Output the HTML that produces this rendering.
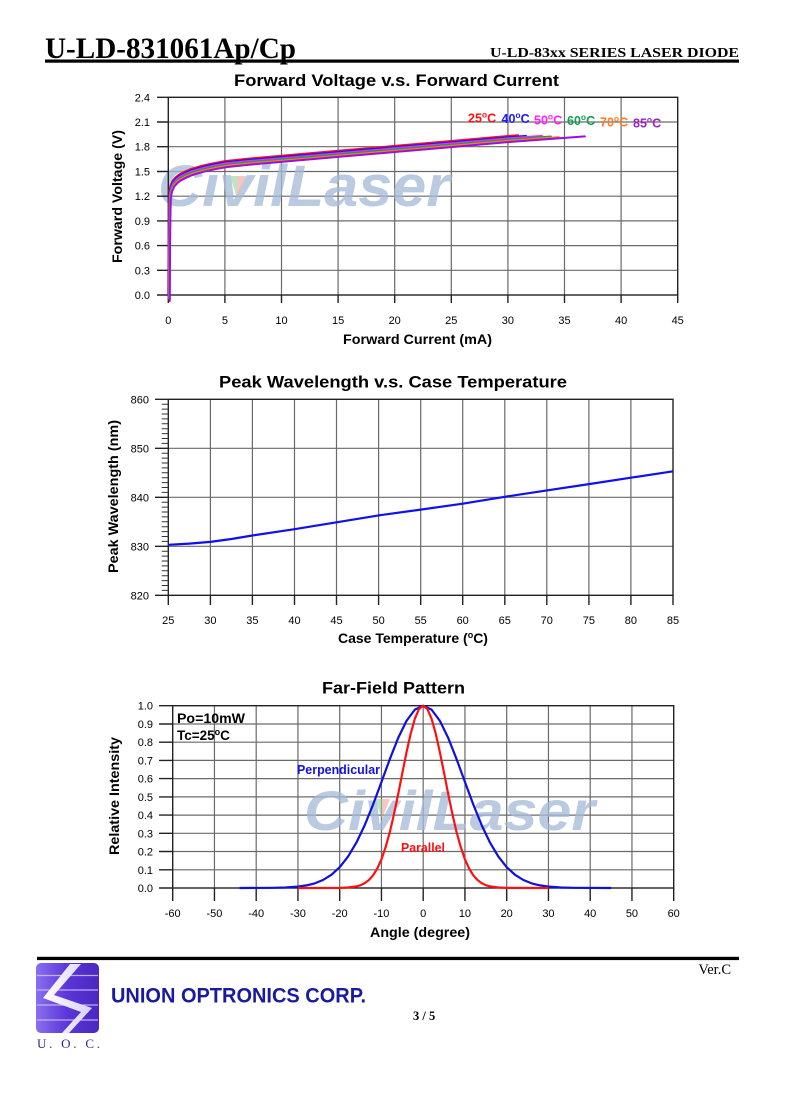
<!DOCTYPE html>
<html>
<head>
<meta charset="utf-8">
<style>
html,body{margin:0;padding:0;background:#fff;}
svg{display:block;}
</style>
</head>
<body>
<svg width="785" height="1104" viewBox="0 0 785 1104" xmlns="http://www.w3.org/2000/svg">
<rect x="0" y="0" width="785" height="1104" fill="#fff"/>

<!-- ============ HEADER ============ -->
<text x="45" y="58" font-family="'Liberation Serif', serif" font-weight="bold" font-size="30" textLength="251" lengthAdjust="spacingAndGlyphs" fill="#000">U-LD-831061Ap/Cp</text>
<rect x="45" y="59.5" width="694" height="3.2" fill="#000"/>
<text x="739" y="57" text-anchor="end" font-family="'Liberation Serif', serif" font-weight="bold" font-size="14" textLength="249" lengthAdjust="spacingAndGlyphs" fill="#000">U-LD-83xx SERIES LASER DIODE</text>

<!-- ============ CHART 1 ============ -->
<text x="396.5" y="86" text-anchor="middle" font-family="'Liberation Sans', sans-serif" font-weight="bold" font-size="16.5" textLength="325" lengthAdjust="spacingAndGlyphs" fill="#000">Forward Voltage v.s. Forward Current</text>

<g stroke="#6a6a6a" stroke-width="1.2" fill="none">
<path d="M224.9 97.3V295M281.5 97.3V295M338.1 97.3V295M394.7 97.3V295M451.3 97.3V295M507.9 97.3V295M564.5 97.3V295M621.1 97.3V295"/>
<path d="M168.3 270.3H677.7M168.3 245.6H677.7M168.3 220.9H677.7M168.3 196.2H677.7M168.3 171.5H677.7M168.3 146.7H677.7M168.3 122H677.7"/>
</g>
<!-- watermark -->
<g opacity="0.75">
<text x="158" y="206" font-family="'Liberation Sans', sans-serif" font-weight="bold" font-style="italic" font-size="58" textLength="292" lengthAdjust="spacingAndGlyphs" fill="#a4bad8">CivilLaser</text>
<polygon points="230,176 237,176 237,198" fill="#8fd39a" opacity="0.8"/>
<polygon points="237,176 246,176 237,198" fill="#f0a0a0" opacity="0.8"/>
</g>
<g stroke="#222" stroke-width="1.4" fill="none">
<rect x="168.3" y="97.3" width="509.4" height="197.7"/>
<path d="M157 97.3H168.3M157 122H168.3M157 146.7H168.3M157 171.5H168.3M157 196.2H168.3M157 220.9H168.3M157 245.6H168.3M157 270.3H168.3M157 295H168.3"/>
<path d="M168.3 295V303M224.9 295V303M281.5 295V303M338.1 295V303M394.7 295V303M451.3 295V303M507.9 295V303M564.5 295V303M621.1 295V303M677.7 295V303"/>
</g>
<g font-family="'Liberation Sans', sans-serif" font-size="11" fill="#000" text-anchor="end">
<text x="150" y="101.3">2.4</text><text x="150" y="126">2.1</text><text x="150" y="150.7">1.8</text>
<text x="150" y="175.5">1.5</text><text x="150" y="200.2">1.2</text><text x="150" y="224.9">0.9</text>
<text x="150" y="249.6">0.6</text><text x="150" y="274.3">0.3</text><text x="150" y="299">0.0</text>
</g>
<g font-family="'Liberation Sans', sans-serif" font-size="11" fill="#000" text-anchor="middle">
<text x="168.3" y="324">0</text><text x="224.9" y="324">5</text><text x="281.5" y="324">10</text>
<text x="338.1" y="324">15</text><text x="394.7" y="324">20</text><text x="451.3" y="324">25</text>
<text x="507.9" y="324">30</text><text x="564.5" y="324">35</text><text x="621.1" y="324">40</text>
<text x="677.7" y="324">45</text>
</g>
<text x="417.5" y="344" text-anchor="middle" font-family="'Liberation Sans', sans-serif" font-weight="bold" font-size="14" textLength="149" lengthAdjust="spacingAndGlyphs">Forward Current (mA)</text>
<text transform="translate(122,196.5) rotate(-90)" text-anchor="middle" font-family="'Liberation Sans', sans-serif" font-weight="bold" font-size="14" textLength="133" lengthAdjust="spacingAndGlyphs">Forward Voltage (V)</text>

<!-- VI curves -->
<g fill="none" stroke-width="2" stroke-linejoin="round" stroke-linecap="round">
<polyline stroke="#ff1010" points="168.3,295 168.6,237.3 169,204.4 169.4,191.2 170.6,185.4 172.8,180.5 176.2,176.8 179.6,174.3 185.3,171.4 190.9,169 202.3,165.7 213.6,163.2 224.9,161.1 247.5,158.7 281.5,155.8 338.1,150.8 394.7,145.9 451.3,141 507.9,136 518.1,135.3"/>
<polyline transform="translate(0.3,1.2)" stroke="#1a1aff" points="168.3,295 168.6,237.3 169,204.4 169.4,191.2 170.6,185.4 172.8,180.5 176.2,176.8 179.6,174.3 185.3,171.4 190.9,169 202.3,165.7 213.6,163.2 224.9,161.1 247.5,158.7 281.5,155.8 338.1,150.8 394.7,145.9 451.3,141 507.9,136 525.7,134.7"/>
<polyline transform="translate(0.6,2.4)" stroke="#ff20ff" points="168.3,295 168.6,237.3 169,204.4 169.4,191.2 170.6,185.4 172.8,180.5 176.2,176.8 179.6,174.3 185.3,171.4 190.9,169 202.3,165.7 213.6,163.2 224.9,161.1 247.5,158.7 281.5,155.8 338.1,150.8 394.7,145.9 451.3,141 507.9,136 541.3,133.5"/>
<polyline transform="translate(0.9,3.6)" stroke="#10a050" points="168.3,295 168.6,237.3 169,204.4 169.4,191.2 170.6,185.4 172.8,180.5 176.2,176.8 179.6,174.3 185.3,171.4 190.9,169 202.3,165.7 213.6,163.2 224.9,161.1 247.5,158.7 281.5,155.8 338.1,150.8 394.7,145.9 451.3,141 507.9,136 550,132.9"/>
<polyline transform="translate(1.2,4.8)" stroke="#ff7a20" points="168.3,295 168.6,237.3 169,204.4 169.4,191.2 170.6,185.4 172.8,180.5 176.2,176.8 179.6,174.3 185.3,171.4 190.9,169 202.3,165.7 213.6,163.2 224.9,161.1 247.5,158.7 281.5,155.8 338.1,150.8 394.7,145.9 451.3,141 507.9,136 557.6,132.3"/>
<polyline transform="translate(1.5,6)" stroke="#9a10e0" points="168.3,295 168.6,237.3 169,204.4 169.4,191.2 170.6,185.4 172.8,180.5 176.2,176.8 179.6,174.3 185.3,171.4 190.9,169 202.3,165.7 213.6,163.2 224.9,161.1 247.5,158.7 281.5,155.8 338.1,150.8 394.7,145.9 451.3,141 507.9,136 583.4,130.4"/>
</g>
<!-- legend -->
<g font-family="'Liberation Sans', sans-serif" font-weight="bold" font-size="12.5">
<text x="468" y="122.3" fill="#ff1010">25<tspan font-size="8.5" dy="-5">o</tspan><tspan dy="5">C</tspan></text>
<text x="501.5" y="122.8" fill="#1a1aff">40<tspan font-size="8.5" dy="-5">o</tspan><tspan dy="5">C</tspan></text>
<text x="534" y="124.3" fill="#ff20ff">50<tspan font-size="8.5" dy="-5">o</tspan><tspan dy="5">C</tspan></text>
<text x="567" y="125" fill="#10a050">60<tspan font-size="8.5" dy="-5">o</tspan><tspan dy="5">C</tspan></text>
<text x="600" y="126.7" fill="#ff7a20">70<tspan font-size="8.5" dy="-5">o</tspan><tspan dy="5">C</tspan></text>
<text x="633" y="127.7" fill="#9a20c8">85<tspan font-size="8.5" dy="-5">o</tspan><tspan dy="5">C</tspan></text>
</g>

<!-- ============ CHART 2 ============ -->
<text x="393" y="387.5" text-anchor="middle" font-family="'Liberation Sans', sans-serif" font-weight="bold" font-size="16.5" textLength="348" lengthAdjust="spacingAndGlyphs" fill="#000">Peak Wavelength v.s. Case Temperature</text>
<g stroke="#6a6a6a" stroke-width="1.2" fill="none">
<path d="M210.4 399.3V595.3M252.4 399.3V595.3M294.5 399.3V595.3M336.5 399.3V595.3M378.6 399.3V595.3M420.7 399.3V595.3M462.7 399.3V595.3M504.8 399.3V595.3M546.8 399.3V595.3M588.9 399.3V595.3M630.9 399.3V595.3"/>
<path d="M168.3 448.3H673M168.3 497.3H673M168.3 546.3H673"/>
</g>
<g stroke="#222" stroke-width="1.4" fill="none">
<rect x="168.3" y="399.3" width="504.7" height="196"/>
<path d="M155 399.3H168.3M155 448.3H168.3M155 497.3H168.3M155 546.3H168.3M155 595.3H168.3"/>
<path d="M168.3 595.3V605M210.4 595.3V605M252.4 595.3V605M294.5 595.3V605M336.5 595.3V605M378.6 595.3V605M420.7 595.3V605M462.7 595.3V605M504.8 595.3V605M546.8 595.3V605M588.9 595.3V605M630.9 595.3V605M673 595.3V605"/>
</g>
<path stroke="#333" stroke-width="1" fill="none" d="M161.7 404.2H168.3M161.7 409.1H168.3M161.7 414H168.3M161.7 418.9H168.3M161.7 423.8H168.3M161.7 428.7H168.3M161.7 433.6H168.3M161.7 438.5H168.3M161.7 443.4H168.3M161.7 453.2H168.3M161.7 458.1H168.3M161.7 463H168.3M161.7 467.9H168.3M161.7 472.8H168.3M161.7 477.7H168.3M161.7 482.6H168.3M161.7 487.5H168.3M161.7 492.4H168.3M161.7 502.2H168.3M161.7 507.1H168.3M161.7 512H168.3M161.7 516.9H168.3M161.7 521.8H168.3M161.7 526.7H168.3M161.7 531.6H168.3M161.7 536.5H168.3M161.7 541.4H168.3M161.7 551.2H168.3M161.7 556.1H168.3M161.7 561H168.3M161.7 565.9H168.3M161.7 570.8H168.3M161.7 575.7H168.3M161.7 580.6H168.3M161.7 585.5H168.3M161.7 590.4H168.3"/>
<g font-family="'Liberation Sans', sans-serif" font-size="11" fill="#000" text-anchor="end">
<text x="149" y="403.3">860</text><text x="149" y="452.3">850</text><text x="149" y="501.3">840</text>
<text x="149" y="550.3">830</text><text x="149" y="599.3">820</text>
</g>
<g font-family="'Liberation Sans', sans-serif" font-size="11" fill="#000" text-anchor="middle">
<text x="168.3" y="624">25</text><text x="210.4" y="624">30</text><text x="252.4" y="624">35</text>
<text x="294.5" y="624">40</text><text x="336.5" y="624">45</text><text x="378.6" y="624">50</text>
<text x="420.7" y="624">55</text><text x="462.7" y="624">60</text><text x="504.8" y="624">65</text>
<text x="546.8" y="624">70</text><text x="588.9" y="624">75</text><text x="630.9" y="624">80</text>
<text x="673" y="624">85</text>
</g>
<text x="338" y="643" font-family="'Liberation Sans', sans-serif" font-weight="bold" font-size="14">Case Temperature (<tspan font-size="9" dy="-5">o</tspan><tspan dy="5">C)</tspan></text>
<text transform="translate(118,496.5) rotate(-90)" text-anchor="middle" font-family="'Liberation Sans', sans-serif" font-weight="bold" font-size="14" textLength="153" lengthAdjust="spacingAndGlyphs">Peak Wavelength (nm)</text>
<polyline fill="none" stroke="#1010ee" stroke-width="2.2" stroke-linejoin="round" points="168.3,544.8 189.3,543.6 210.4,541.9 231.4,539 252.4,535.5 294.5,529.2 336.5,522.3 378.6,515.4 420.7,509.6 462.7,503.7 504.8,496.8 546.8,490.4 588.9,484.1 630.9,477.7 673,471.3"/>

<!-- ============ CHART 3 ============ -->
<text x="393.5" y="693.3" text-anchor="middle" font-family="'Liberation Sans', sans-serif" font-weight="bold" font-size="16.5" textLength="143" lengthAdjust="spacingAndGlyphs" fill="#000">Far-Field Pattern</text>
<g stroke="#6a6a6a" stroke-width="1.2" fill="none">
<path d="M214.45 705.7V888M256.2 705.7V888M297.95 705.7V888M339.7 705.7V888M381.45 705.7V888M423.2 705.7V888M464.95 705.7V888M506.7 705.7V888M548.45 705.7V888M590.2 705.7V888M631.95 705.7V888"/>
<path d="M172.7 869.8H673.7M172.7 851.5H673.7M172.7 833.3H673.7M172.7 815.1H673.7M172.7 796.9H673.7M172.7 778.6H673.7M172.7 760.4H673.7M172.7 742.2H673.7M172.7 724H673.7"/>
</g>
<g opacity="0.75">
<text x="304" y="830" font-family="'Liberation Sans', sans-serif" font-weight="bold" font-style="italic" font-size="56" textLength="291" lengthAdjust="spacingAndGlyphs" fill="#a4bad8">CivilLaser</text>
<polygon points="375,799 382,799 382,819" fill="#8fd39a" opacity="0.8"/>
<polygon points="382,799 390,799 382,819" fill="#f0a0a0" opacity="0.8"/>
</g>
<g stroke="#222" stroke-width="1.4" fill="none">
<rect x="172.7" y="705.7" width="501" height="182.3"/>
<path d="M159 705.7H172.7M159 724H172.7M159 742.2H172.7M159 760.4H172.7M159 778.6H172.7M159 796.9H172.7M159 815.1H172.7M159 833.3H172.7M159 851.5H172.7M159 869.8H172.7M159 888H172.7"/>
<path d="M172.7 888V901M214.45 888V901M256.2 888V901M297.95 888V901M339.7 888V901M381.45 888V901M423.2 888V901M464.95 888V901M506.7 888V901M548.45 888V901M590.2 888V901M631.95 888V901M673.7 888V901"/>
</g>
<g font-family="'Liberation Sans', sans-serif" font-size="11" fill="#000" text-anchor="end">
<text x="153" y="709.7">1.0</text><text x="153" y="728">0.9</text><text x="153" y="746.2">0.8</text>
<text x="153" y="764.4">0.7</text><text x="153" y="782.6">0.6</text><text x="153" y="800.9">0.5</text>
<text x="153" y="819.1">0.4</text><text x="153" y="837.3">0.3</text><text x="153" y="855.5">0.2</text>
<text x="153" y="873.8">0.1</text><text x="153" y="892">0.0</text>
</g>
<g font-family="'Liberation Sans', sans-serif" font-size="11" fill="#000" text-anchor="middle">
<text x="172.7" y="917">-60</text><text x="214.45" y="917">-50</text><text x="256.2" y="917">-40</text>
<text x="297.95" y="917">-30</text><text x="339.7" y="917">-20</text><text x="381.45" y="917">-10</text>
<text x="423.2" y="917">0</text><text x="464.95" y="917">10</text><text x="506.7" y="917">20</text>
<text x="548.45" y="917">30</text><text x="590.2" y="917">40</text><text x="631.95" y="917">50</text>
<text x="673.7" y="917">60</text>
</g>
<text x="420" y="937" text-anchor="middle" font-family="'Liberation Sans', sans-serif" font-weight="bold" font-size="14" textLength="100" lengthAdjust="spacingAndGlyphs">Angle (degree)</text>
<text transform="translate(119,796) rotate(-90)" text-anchor="middle" font-family="'Liberation Sans', sans-serif" font-weight="bold" font-size="14" textLength="118" lengthAdjust="spacingAndGlyphs">Relative Intensity</text>

<g font-family="'Liberation Sans', sans-serif" font-weight="bold" font-size="13.5" fill="#000">
<text x="177" y="723" textLength="68" lengthAdjust="spacingAndGlyphs">Po=10mW</text>
<text x="177" y="740">Tc=25<tspan font-size="9" dy="-5">o</tspan><tspan dy="5">C</tspan></text>
</g>

<g fill="none" stroke-width="2.2" stroke-linejoin="round">
<polyline stroke="#1010dd" points="239.5,888 272.9,887.8 285.4,887.5 297.95,886.6 306.3,885.4 314.65,883.4 323,880 331.35,874.8 339.7,867.2 348.05,856.6 356.4,842.6 364.75,825.1 373.1,804.5 381.45,782 389.8,759.2 398.15,738 406.5,720.9 414.85,709.6 423.2,705.7 431.55,709.6 439.9,720.9 448.25,738 456.6,759.2 464.95,782 473.3,804.5 481.65,825.1 490,842.6 498.35,856.6 506.7,867.2 515.05,874.8 523.4,880 531.75,883.4 540.1,885.4 548.45,886.6 561,887.5 573.5,887.8 611.1,888"/>
<polyline stroke="#ff1010" points="297.95,888 339.7,887.9 348.05,887.5 356.4,886.4 360.6,885.2 364.75,883.1 368.9,880 373.1,875.3 377.3,868.5 381.45,859.3 385.6,847.2 389.8,832.2 393.95,814.3 398.15,794.3 402.3,773.2 406.5,752.4 410.7,733.6 414.85,718.7 419,709 423.2,705.7 427.4,709 431.55,718.7 435.7,733.6 439.9,752.4 444.1,773.2 448.25,794.3 452.45,814.3 456.6,832.2 460.8,847.2 464.95,859.3 469.1,868.5 473.3,875.3 477.5,880 481.65,883.1 485.8,885.2 490,886.4 498.35,887.5 506.7,887.9 548.45,888"/>
</g>
<text x="297" y="774" font-family="'Liberation Sans', sans-serif" font-weight="bold" font-size="12.5" fill="#1010dd" textLength="83" lengthAdjust="spacingAndGlyphs">Perpendicular</text>
<text x="401" y="852" font-family="'Liberation Sans', sans-serif" font-weight="bold" font-size="12.5" fill="#ff1010" textLength="44" lengthAdjust="spacingAndGlyphs">Parallel</text>

<!-- ============ FOOTER ============ -->
<rect x="37" y="956.8" width="702" height="3.3" fill="#000"/>
<defs>
<linearGradient id="lg" x1="0" y1="0" x2="1" y2="0">
<stop offset="0" stop-color="#8a6ff0"/>
<stop offset="0.5" stop-color="#5a35d8"/>
<stop offset="1" stop-color="#4a28c0"/>
</linearGradient>
<linearGradient id="lw" x1="0" y1="0" x2="1" y2="0">
<stop offset="0" stop-color="#ffffff"/>
<stop offset="1" stop-color="#d8d0ff"/>
</linearGradient>
</defs>
<rect x="36" y="963" width="63" height="70" rx="5" fill="url(#lg)"/>
<g stroke="#c9bdf5" stroke-width="1.2" opacity="0.9">
<path d="M37 975.5H98M37 990H98M37 1005H98M37 1020H98"/>
</g>
<polygon points="70,964 81,964 54,995 92,1008 69,1033 62,1033 81,1012 43,998" fill="url(#lw)"/>
<text x="37" y="1048" font-family="'Liberation Serif', serif" font-size="13" fill="#2a2a8a" textLength="63" lengthAdjust="spacing">U. O. C.</text>
<text x="111" y="1002.7" font-family="'Liberation Sans', sans-serif" font-weight="bold" font-size="21" fill="#1a1aa0" textLength="255" lengthAdjust="spacingAndGlyphs">UNION OPTRONICS CORP.</text>
<text x="413" y="1020" font-family="'Liberation Serif', serif" font-weight="bold" font-size="12.5" fill="#000">3 / 5</text>
<text x="731" y="974" text-anchor="end" font-family="'Liberation Serif', serif" font-size="14.5" fill="#000">Ver.C</text>
</svg>
</body>
</html>
